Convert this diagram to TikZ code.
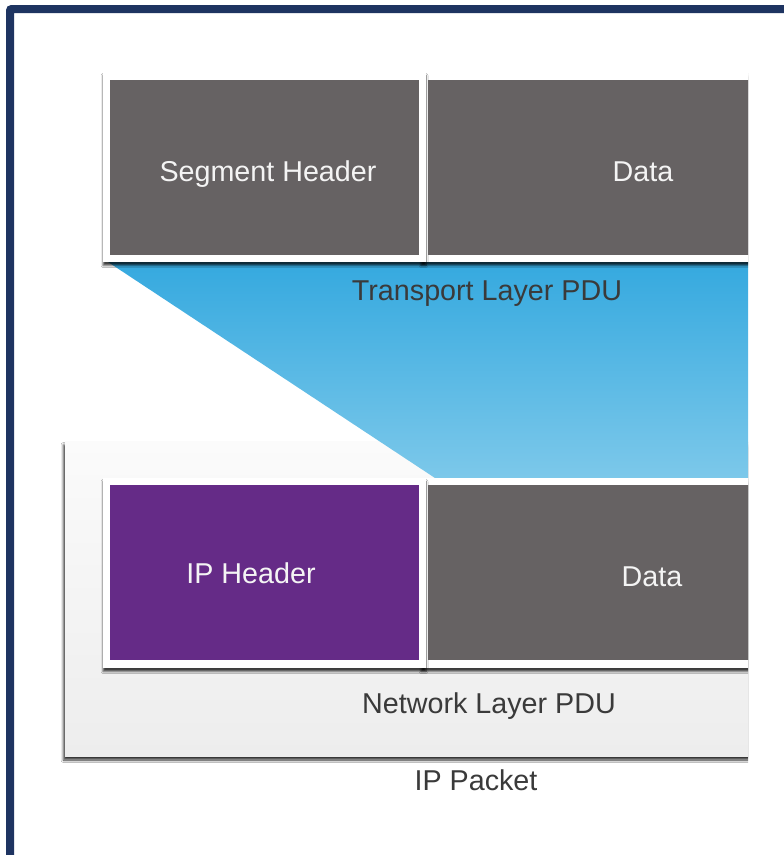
\documentclass[tikz,border=0pt]{standalone}
\usepackage{fontspec}
\setmainfont{Liberation Sans}
\usetikzlibrary{shadows.blur}

\definecolor{framenavy}{RGB}{30,52,97}
\definecolor{pdugray}{RGB}{102,98,99}
\definecolor{ippurple}{RGB}{101,43,135}
\definecolor{skytop}{RGB}{53,169,223}
\definecolor{skybot}{RGB}{124,200,234}
\definecolor{labelgray}{RGB}{58,58,58}
\definecolor{boxtext}{RGB}{244,244,244}
\definecolor{packettop}{RGB}{251,251,251}
\definecolor{packetbot}{RGB}{237,237,237}

\begin{document}
\begin{tikzpicture}[x=1pt,y=-1pt,
  box/.style={anchor=north west, inner sep=0pt, outer sep=0pt, draw=none},
  whiteframe/.style={box, fill=white,
    blur shadow={shadow xshift=0pt, shadow yshift=-3.5pt,
      shadow blur radius=2pt, shadow opacity=75}},
  graycell/.style={box, fill=pdugray},
  purplecell/.style={box, fill=ippurple},
  cellText/.style={anchor=base, inner sep=0pt, text=boxtext,
    font=\fontsize{28.7}{34}\selectfont},
  layerText/.style={anchor=base, inner sep=0pt, text=labelgray,
    font=\fontsize{28.7}{34}\selectfont}]

\useasboundingbox (0,0) rectangle (784,855);
\fill[white] (0,0) rectangle (784,855);

% navy frame along the top and left edges
\fill[framenavy] (6,870) [rounded corners=5pt] -- (6,5) [sharp corners] -- (800,5)
  -- (800,13) -- (14,13) -- (14,870) -- cycle;

\begin{scope}
\clip (0,0) rectangle (748,855);

% IP packet container
\node[box, minimum width=720pt, minimum height=315pt,
  top color=packettop, bottom color=packetbot,
  blur shadow={shadow xshift=-1.5pt, shadow yshift=-4pt,
    shadow blur radius=2.5pt, shadow opacity=80}] (packet) at (65,441) {};

% transport PDU fanning into the packet payload
\shade[top color=skytop, bottom color=skybot]
  (108,262) -- (760,262) -- (760,478) -- (435,478) -- cycle;

% transport layer PDU
\node[whiteframe, minimum width=470pt, minimum height=190pt] (segdataframe) at (421,72) {};
\node[whiteframe, minimum width=323pt, minimum height=190pt] (seghdrframe) at (103,72) {};
\node[graycell, minimum width=309pt, minimum height=175pt] (seghdr) at (110,80) {};
\node[graycell, minimum width=430pt, minimum height=175pt] (segdata) at (428,80) {};

% network layer PDU
\node[whiteframe, minimum width=470pt, minimum height=190pt] (ipdataframe) at (421,478) {};
\node[whiteframe, minimum width=323pt, minimum height=190pt] (iphdrframe) at (103,478) {};
\node[purplecell, minimum width=309pt, minimum height=175pt] (iphdr) at (110,485) {};
\node[graycell, minimum width=448pt, minimum height=175pt] (ipdata) at (428,485) {};
\end{scope}

% labels
\node[cellText] (seghdrlabel) at (268,181) {Segment Header};
\node[cellText] (segdatalabel) at (643,181) {Data};
\node[layerText] (transportlabel) at (487,300) {Transport Layer PDU};
\node[cellText] (iphdrlabel) at (251,583) {IP Header};
\node[cellText] (ipdatalabel) at (652,586) {Data};
\node[layerText] (networklabel) at (489,713) {Network Layer PDU};
\node[layerText] (packetlabel) at (476,790) {IP Packet};
\end{tikzpicture}
\end{document}
